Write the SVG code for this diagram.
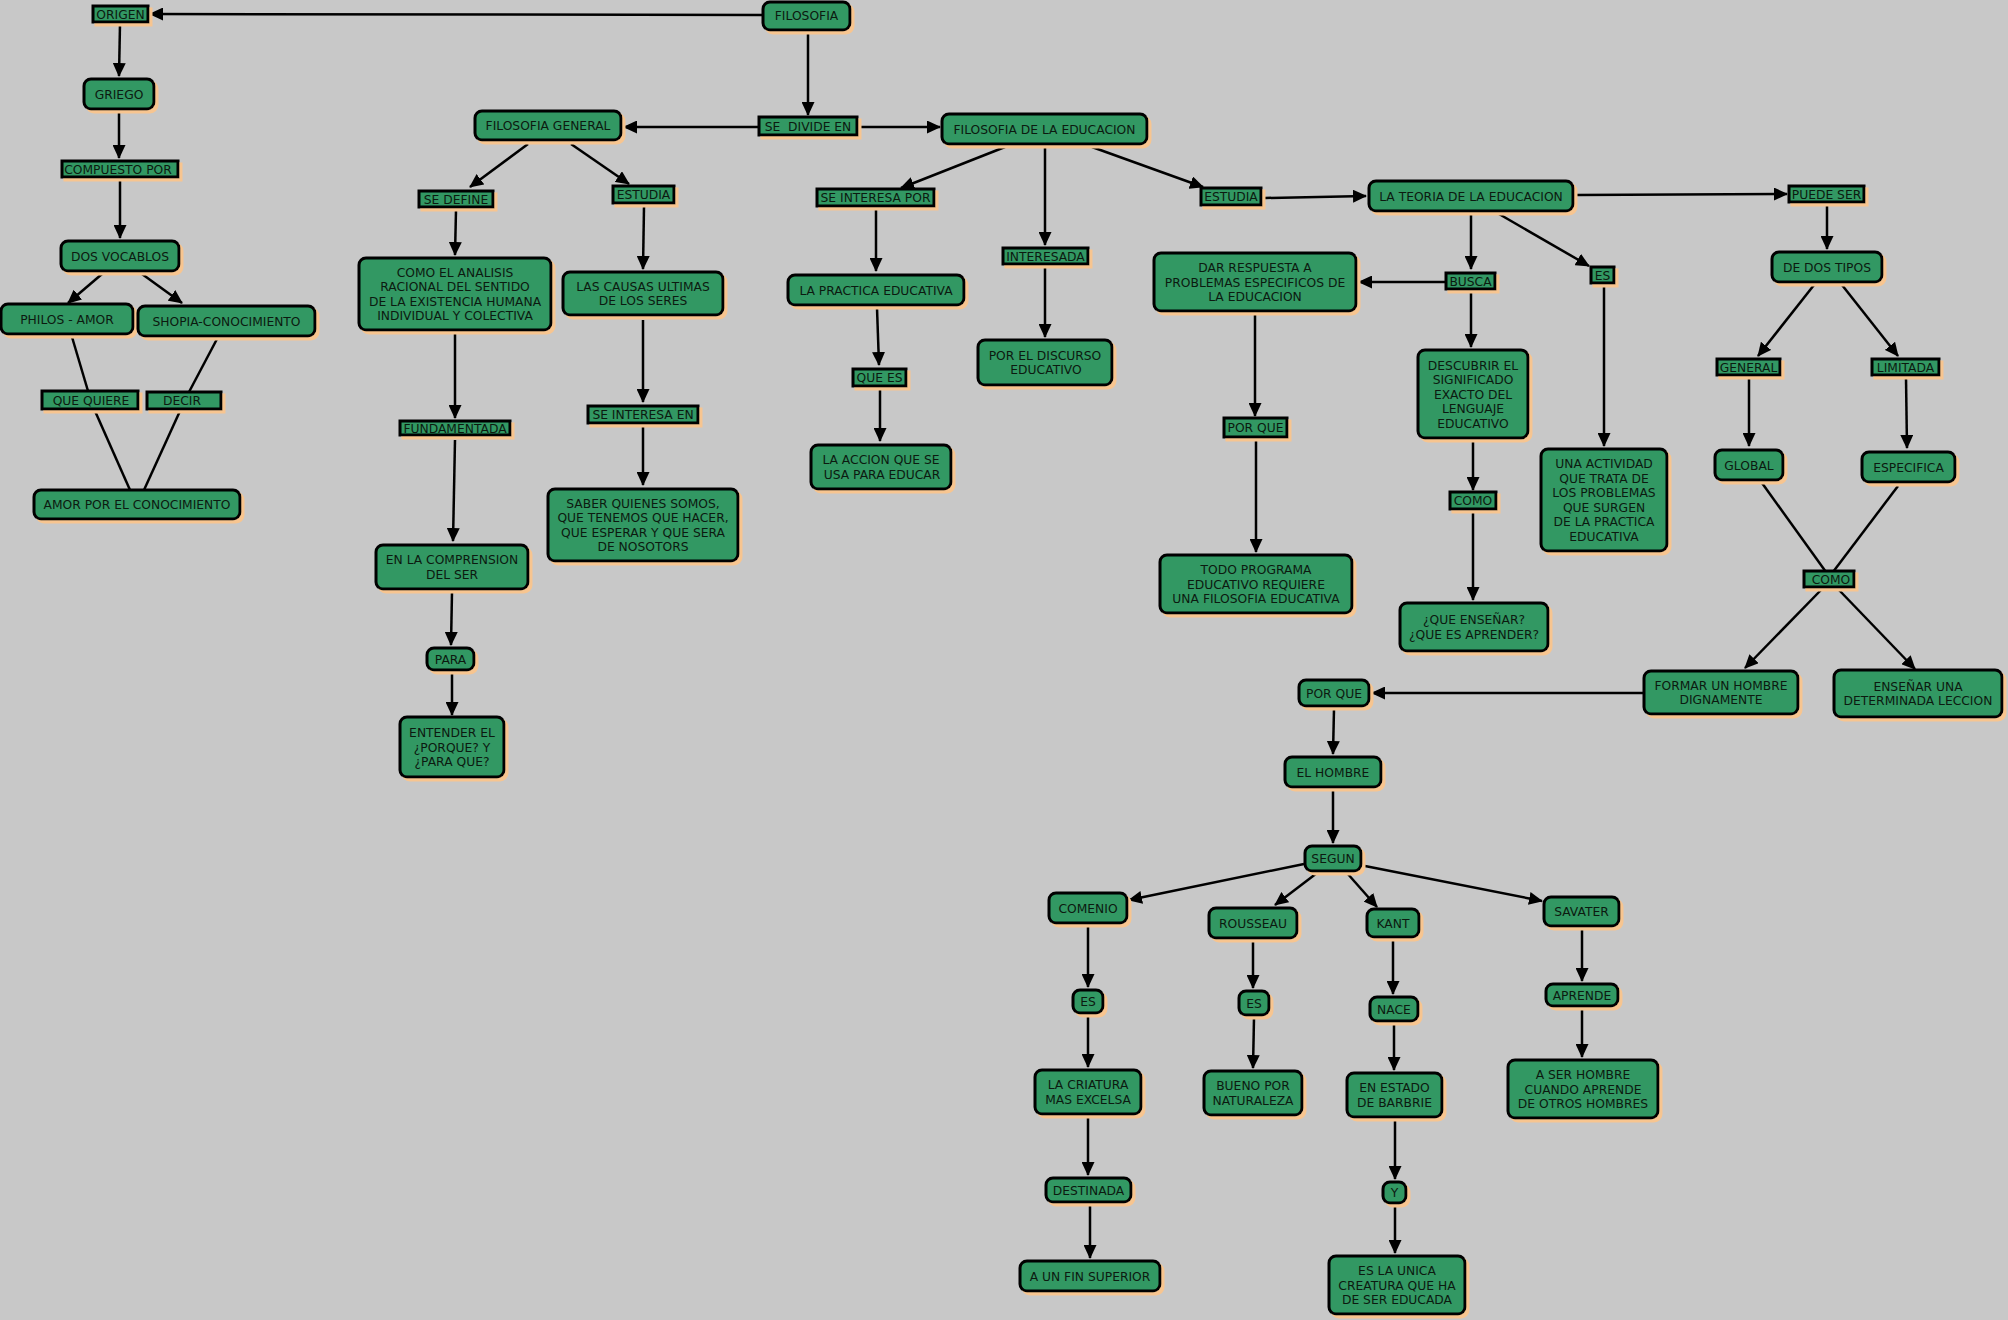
<svg xmlns="http://www.w3.org/2000/svg" width="2008" height="1320" viewBox="0 0 2008 1320">
<style>
.bg{fill:#c8c8c8}
.n rect{fill:#339863;stroke:#000;stroke-width:3;filter:url(#sh)}
.n text{font-family:"DejaVu Sans",Verdana,sans-serif;font-size:12.3px;fill:#0c1a10;text-anchor:middle}
#connectors path{fill:none;stroke:#000;stroke-width:2.5}
#connectors path.a{marker-end:url(#ah)}
</style>
<defs>
<marker id="ah" markerWidth="14" markerHeight="13" refX="13" refY="6.5" orient="auto" markerUnits="userSpaceOnUse"><path d="M0,0 L14,6.5 L0,13 z" fill="#000"/></marker>
<filter id="sh" x="-10%" y="-20%" width="130%" height="150%"><feDropShadow dx="3" dy="3" stdDeviation="0.6" flood-color="#f7c590" flood-opacity="1"/></filter>
</defs>
<rect class="bg" x="0" y="0" width="2008" height="1320"/>
<g id="connectors">
<path class="a" d="M763,15 L150,14"/>
<path class="a" d="M120,24 L119,76"/>
<path class="a" d="M119,112 L119,158"/>
<path class="a" d="M120,181 L120,238"/>
<path class="a" d="M102,274 L68,303"/>
<path class="a" d="M142,274 L182,303"/>
<path d="M72,337 L88,391"/>
<path d="M95,411 L130,490"/>
<path d="M217,339 L189,392"/>
<path d="M180,411 L144,490"/>
<path class="a" d="M808,33 L808,115"/>
<path class="a" d="M759,127 L624,127"/>
<path class="a" d="M859,127 L940,127"/>
<path class="a" d="M528,144 L470,187"/>
<path class="a" d="M571,144 L629,184"/>
<path class="a" d="M456,210 L455,255"/>
<path class="a" d="M644,207 L643,269"/>
<path class="a" d="M643,320 L643,402"/>
<path class="a" d="M643,425 L643,485"/>
<path class="a" d="M455,333 L455,418"/>
<path class="a" d="M455,440 L453,541"/>
<path class="a" d="M452,592 L451,645"/>
<path class="a" d="M452,674 L452,715"/>
<path class="a" d="M1005,147 L901,188"/>
<path class="a" d="M1045,147 L1045,245"/>
<path class="a" d="M1092,147 L1203,187"/>
<path class="a" d="M876,209 L876,271"/>
<path class="a" d="M877,308 L879,365"/>
<path class="a" d="M880,390 L880,441"/>
<path class="a" d="M1045,267 L1045,337"/>
<path class="a" d="M1265,198 L1366,196"/>
<path class="a" d="M1576,195 L1787,194"/>
<path class="a" d="M1471,214 L1471,269"/>
<path class="a" d="M1499,214 L1589,266"/>
<path class="a" d="M1446,282 L1359,282"/>
<path class="a" d="M1471,292 L1471,347"/>
<path class="a" d="M1473,441 L1473,490"/>
<path class="a" d="M1473,512 L1473,600"/>
<path class="a" d="M1255,314 L1255,416"/>
<path class="a" d="M1256,440 L1256,552"/>
<path class="a" d="M1604,286 L1604,446"/>
<path class="a" d="M1827,205 L1827,249"/>
<path class="a" d="M1814,285 L1758,356"/>
<path class="a" d="M1842,285 L1898,356"/>
<path class="a" d="M1749,378 L1749,446"/>
<path class="a" d="M1906,378 L1907,448"/>
<path d="M1762,483 L1826,572"/>
<path d="M1898,486 L1833,572"/>
<path class="a" d="M1821,590 L1745,668"/>
<path class="a" d="M1839,590 L1915,669"/>
<path class="a" d="M1644,693 L1372,693"/>
<path class="a" d="M1334,709 L1333,754"/>
<path class="a" d="M1333,790 L1333,843"/>
<path class="a" d="M1304,864 L1129,900"/>
<path class="a" d="M1317,873 L1275,905"/>
<path class="a" d="M1347,873 L1377,907"/>
<path class="a" d="M1365,866 L1542,901"/>
<path class="a" d="M1088,927 L1088,987"/>
<path class="a" d="M1088,1016 L1088,1067"/>
<path class="a" d="M1088,1117 L1088,1175"/>
<path class="a" d="M1090,1205 L1090,1258"/>
<path class="a" d="M1253,941 L1253,988"/>
<path class="a" d="M1254,1018 L1253,1068"/>
<path class="a" d="M1393,941 L1393,994"/>
<path class="a" d="M1394,1024 L1394,1070"/>
<path class="a" d="M1395,1120 L1395,1179"/>
<path class="a" d="M1395,1207 L1395,1253"/>
<path class="a" d="M1582,930 L1582,981"/>
<path class="a" d="M1582,1010 L1582,1057"/>
</g>
<g id="filosofia" class="n"><rect x="763" y="2" width="87" height="28" rx="7"/><text x="806.5" y="20">FILOSOFIA</text></g>
<g id="origen" class="n"><rect x="93" y="6" width="55" height="16"/><text x="120.5" y="18.5">ORIGEN</text></g>
<g id="griego" class="n"><rect x="84" y="79" width="70" height="30" rx="7"/><text x="119" y="98.5">GRIEGO</text></g>
<g id="compuesto-por" class="n"><rect x="62" y="161" width="116" height="16"/><text x="118" y="173.5">COMPUESTO POR</text></g>
<g id="dos-vocablos" class="n"><rect x="61" y="241" width="118" height="30" rx="7"/><text x="120" y="260.5">DOS VOCABLOS</text></g>
<g id="philos" class="n"><rect x="1" y="304" width="132" height="30" rx="7"/><text x="67" y="323.5">PHILOS - AMOR</text></g>
<g id="shopia" class="n"><rect x="138" y="306" width="177" height="30" rx="7"/><text x="226.5" y="325.5">SHOPIA-CONOCIMIENTO</text></g>
<g id="que-quiere" class="n"><rect x="42" y="391" width="96" height="18"/><text x="91" y="404.5">QUE QUIERE</text></g>
<g id="decir" class="n"><rect x="147" y="392" width="74" height="17"/><text x="182" y="405">DECIR</text></g>
<g id="amor-conocimiento" class="n"><rect x="34" y="490" width="206" height="29" rx="7"/><text x="137" y="509">AMOR POR EL CONOCIMIENTO</text></g>
<g id="filosofia-general" class="n"><rect x="475" y="111" width="146" height="29" rx="7"/><text x="548" y="130">FILOSOFIA GENERAL</text></g>
<g id="se-divide-en" class="n"><rect x="759" y="117" width="98" height="18"/><text x="808" y="130.5" xml:space="preserve">SE  DIVIDE EN</text></g>
<g id="filosofia-educacion" class="n"><rect x="942" y="114" width="205" height="30" rx="7"/><text x="1044.5" y="133.5">FILOSOFIA DE LA EDUCACION</text></g>
<g id="se-define" class="n"><rect x="419" y="191" width="74" height="16"/><text x="456" y="203.5">SE DEFINE</text></g>
<g id="estudia-1" class="n"><rect x="613" y="186" width="61" height="17"/><text x="643.5" y="199">ESTUDIA</text></g>
<g id="como-analisis" class="n"><rect x="359" y="258" width="192" height="72" rx="7"/><text x="455" y="276.75">COMO EL ANALISIS<tspan x="455" dy="14.5">RACIONAL DEL SENTIDO</tspan><tspan x="455" dy="14.5">DE LA EXISTENCIA HUMANA</tspan><tspan x="455" dy="14.5">INDIVIDUAL Y COLECTIVA</tspan></text></g>
<g id="causas-ultimas" class="n"><rect x="563" y="272" width="160" height="43" rx="7"/><text x="643" y="290.75">LAS CAUSAS ULTIMAS<tspan x="643" dy="14.5">DE LOS SERES</tspan></text></g>
<g id="se-interesa-en" class="n"><rect x="588" y="406" width="110" height="17"/><text x="643" y="419">SE INTERESA EN</text></g>
<g id="saber" class="n"><rect x="548" y="489" width="190" height="72" rx="7"/><text x="643" y="507.75">SABER QUIENES SOMOS,<tspan x="643" dy="14.5">QUE TENEMOS QUE HACER,</tspan><tspan x="643" dy="14.5">QUE ESPERAR Y QUE SERA</tspan><tspan x="643" dy="14.5">DE NOSOTORS</tspan></text></g>
<g id="fundamentada" class="n"><rect x="400" y="421" width="110" height="14"/><text x="455" y="432.5">FUNDAMENTADA</text></g>
<g id="comprension" class="n"><rect x="376" y="545" width="152" height="44" rx="7"/><text x="452" y="564.25">EN LA COMPRENSION<tspan x="452" dy="14.5">DEL SER</tspan></text></g>
<g id="para" class="n"><rect x="427" y="648" width="47" height="22" rx="7"/><text x="450.5" y="663.5">PARA</text></g>
<g id="entender" class="n"><rect x="400" y="717" width="104" height="60" rx="7"/><text x="452" y="737">ENTENDER EL<tspan x="452" dy="14.5">¿PORQUE? Y</tspan><tspan x="452" dy="14.5">¿PARA QUE?</tspan></text></g>
<g id="se-interesa-por" class="n"><rect x="817" y="189" width="117" height="17"/><text x="875.5" y="202">SE INTERESA POR</text></g>
<g id="interesada" class="n"><rect x="1003" y="248" width="85" height="16"/><text x="1045.5" y="260.5">INTERESADA</text></g>
<g id="practica-educativa" class="n"><rect x="788" y="275" width="176" height="30" rx="7"/><text x="876" y="294.5">LA PRACTICA EDUCATIVA</text></g>
<g id="que-es" class="n"><rect x="853" y="369" width="53" height="17"/><text x="879.5" y="382">QUE ES</text></g>
<g id="accion" class="n"><rect x="811" y="445" width="140" height="44" rx="7"/><text x="881" y="464.25">LA ACCION QUE SE<tspan x="882" dy="14.5">USA PARA EDUCAR</tspan></text></g>
<g id="discurso" class="n"><rect x="978" y="340" width="134" height="45" rx="7"/><text x="1045" y="359.75">POR EL DISCURSO<tspan x="1046" dy="14.5">EDUCATIVO</tspan></text></g>
<g id="estudia-2" class="n"><rect x="1201" y="188" width="60" height="17"/><text x="1231" y="201">ESTUDIA</text></g>
<g id="teoria" class="n"><rect x="1369" y="181" width="204" height="30" rx="7"/><text x="1471" y="200.5">LA TEORIA DE LA EDUCACION</text></g>
<g id="busca" class="n"><rect x="1446" y="273" width="49" height="16"/><text x="1470.5" y="285.5">BUSCA</text></g>
<g id="es-1" class="n"><rect x="1591" y="267" width="23" height="16"/><text x="1602.5" y="279.5">ES</text></g>
<g id="dar-respuesta" class="n"><rect x="1154" y="253" width="202" height="58" rx="7"/><text x="1255" y="272">DAR RESPUESTA A<tspan x="1255" dy="14.5">PROBLEMAS ESPECIFICOS DE</tspan><tspan x="1255" dy="14.5">LA EDUCACION</tspan></text></g>
<g id="descubrir" class="n"><rect x="1418" y="350" width="110" height="88" rx="7"/><text x="1473" y="369.5">DESCUBRIR EL<tspan x="1473" dy="14.5">SIGNIFICADO</tspan><tspan x="1473" dy="14.5">EXACTO DEL</tspan><tspan x="1473" dy="14.5">LENGUAJE</tspan><tspan x="1473" dy="14.5">EDUCATIVO</tspan></text></g>
<g id="como-1" class="n"><rect x="1450" y="492" width="46" height="17"/><text x="1473" y="505">COMO</text></g>
<g id="que-ensenar" class="n"><rect x="1400" y="603" width="148" height="48" rx="7"/><text x="1474" y="624.25">¿QUE ENSEÑAR?<tspan x="1474" dy="14.5">¿QUE ES APRENDER?</tspan></text></g>
<g id="por-que-1" class="n"><rect x="1224" y="418" width="63" height="19"/><text x="1255.5" y="432">POR QUE</text></g>
<g id="todo-programa" class="n"><rect x="1160" y="555" width="192" height="58" rx="7"/><text x="1256" y="574">TODO PROGRAMA<tspan x="1256" dy="14.5">EDUCATIVO REQUIERE</tspan><tspan x="1256" dy="14.5">UNA FILOSOFIA EDUCATIVA</tspan></text></g>
<g id="actividad" class="n"><rect x="1541" y="449" width="126" height="102" rx="7"/><text x="1604" y="468.25">UNA ACTIVIDAD<tspan x="1604" dy="14.5">QUE TRATA DE</tspan><tspan x="1604" dy="14.5">LOS PROBLEMAS</tspan><tspan x="1604" dy="14.5">QUE SURGEN</tspan><tspan x="1604" dy="14.5">DE LA PRACTICA</tspan><tspan x="1604" dy="14.5">EDUCATIVA</tspan></text></g>
<g id="puede-ser" class="n"><rect x="1789" y="186" width="75" height="16"/><text x="1826.5" y="198.5">PUEDE SER</text></g>
<g id="dos-tipos" class="n"><rect x="1772" y="252" width="110" height="30" rx="7"/><text x="1827" y="271.5">DE DOS TIPOS</text></g>
<g id="general" class="n"><rect x="1717" y="359" width="63" height="16"/><text x="1748.5" y="371.5">GENERAL</text></g>
<g id="limitada" class="n"><rect x="1872" y="359" width="67" height="16"/><text x="1905.5" y="371.5">LIMITADA</text></g>
<g id="global" class="n"><rect x="1715" y="450" width="68" height="30" rx="7"/><text x="1749" y="469.5">GLOBAL</text></g>
<g id="especifica" class="n"><rect x="1862" y="452" width="93" height="30" rx="7"/><text x="1908.5" y="471.5">ESPECIFICA</text></g>
<g id="como-2" class="n"><rect x="1804" y="571" width="50" height="16"/><text x="1831" y="583.5">COMO</text></g>
<g id="formar" class="n"><rect x="1644" y="671" width="154" height="43" rx="7"/><text x="1721" y="689.75">FORMAR UN HOMBRE<tspan x="1721" dy="14.5">DIGNAMENTE</tspan></text></g>
<g id="ensenar-leccion" class="n"><rect x="1834" y="670" width="168" height="47" rx="7"/><text x="1918" y="690.75">ENSEÑAR UNA<tspan x="1918" dy="14.5">DETERMINADA LECCION</tspan></text></g>
<g id="por-que-2" class="n"><rect x="1299" y="680" width="70" height="26" rx="7"/><text x="1334" y="697.5">POR QUE</text></g>
<g id="el-hombre" class="n"><rect x="1285" y="757" width="96" height="30" rx="7"/><text x="1333" y="776.5">EL HOMBRE</text></g>
<g id="segun" class="n"><rect x="1305" y="846" width="56" height="25" rx="7"/><text x="1333" y="863">SEGUN</text></g>
<g id="comenio" class="n"><rect x="1049" y="893" width="78" height="30" rx="7"/><text x="1088" y="912.5">COMENIO</text></g>
<g id="rousseau" class="n"><rect x="1209" y="908" width="88" height="30" rx="7"/><text x="1253" y="927.5">ROUSSEAU</text></g>
<g id="kant" class="n"><rect x="1367" y="909" width="52" height="28" rx="7"/><text x="1393" y="927.5">KANT</text></g>
<g id="savater" class="n"><rect x="1544" y="897" width="75" height="29" rx="7"/><text x="1581.5" y="916">SAVATER</text></g>
<g id="es-comenio" class="n"><rect x="1073" y="990" width="30" height="23" rx="7"/><text x="1088" y="1006">ES</text></g>
<g id="criatura" class="n"><rect x="1035" y="1070" width="106" height="44" rx="7"/><text x="1088" y="1089.25">LA CRIATURA<tspan x="1088" dy="14.5">MAS EXCELSA</tspan></text></g>
<g id="destinada" class="n"><rect x="1046" y="1178" width="85" height="24" rx="7"/><text x="1088.5" y="1194.5">DESTINADA</text></g>
<g id="fin-superior" class="n"><rect x="1020" y="1261" width="140" height="30" rx="7"/><text x="1090" y="1280.5">A UN FIN SUPERIOR</text></g>
<g id="es-rousseau" class="n"><rect x="1239" y="991" width="30" height="24" rx="7"/><text x="1254" y="1007.5">ES</text></g>
<g id="bueno" class="n"><rect x="1204" y="1071" width="98" height="44" rx="7"/><text x="1253" y="1090.25">BUENO POR<tspan x="1253" dy="14.5">NATURALEZA</tspan></text></g>
<g id="nace" class="n"><rect x="1370" y="997" width="48" height="24" rx="7"/><text x="1394" y="1013.5">NACE</text></g>
<g id="estado-barbrie" class="n"><rect x="1347" y="1073" width="95" height="44" rx="7"/><text x="1394.5" y="1092.25">EN ESTADO<tspan x="1394.5" dy="14.5">DE BARBRIE</tspan></text></g>
<g id="y" class="n"><rect x="1383" y="1182" width="23" height="21" rx="7"/><text x="1394.5" y="1197">Y</text></g>
<g id="unica-creatura" class="n"><rect x="1329" y="1256" width="136" height="58" rx="7"/><text x="1397" y="1275">ES LA UNICA<tspan x="1397" dy="14.5">CREATURA QUE HA</tspan><tspan x="1397" dy="14.5">DE SER EDUCADA</tspan></text></g>
<g id="aprende" class="n"><rect x="1546" y="984" width="72" height="22" rx="7"/><text x="1582" y="999.5">APRENDE</text></g>
<g id="ser-hombre" class="n"><rect x="1508" y="1060" width="150" height="58" rx="7"/><text x="1583" y="1079">A SER HOMBRE<tspan x="1583" dy="14.5">CUANDO APRENDE</tspan><tspan x="1583" dy="14.5">DE OTROS HOMBRES</tspan></text></g>
</svg>
